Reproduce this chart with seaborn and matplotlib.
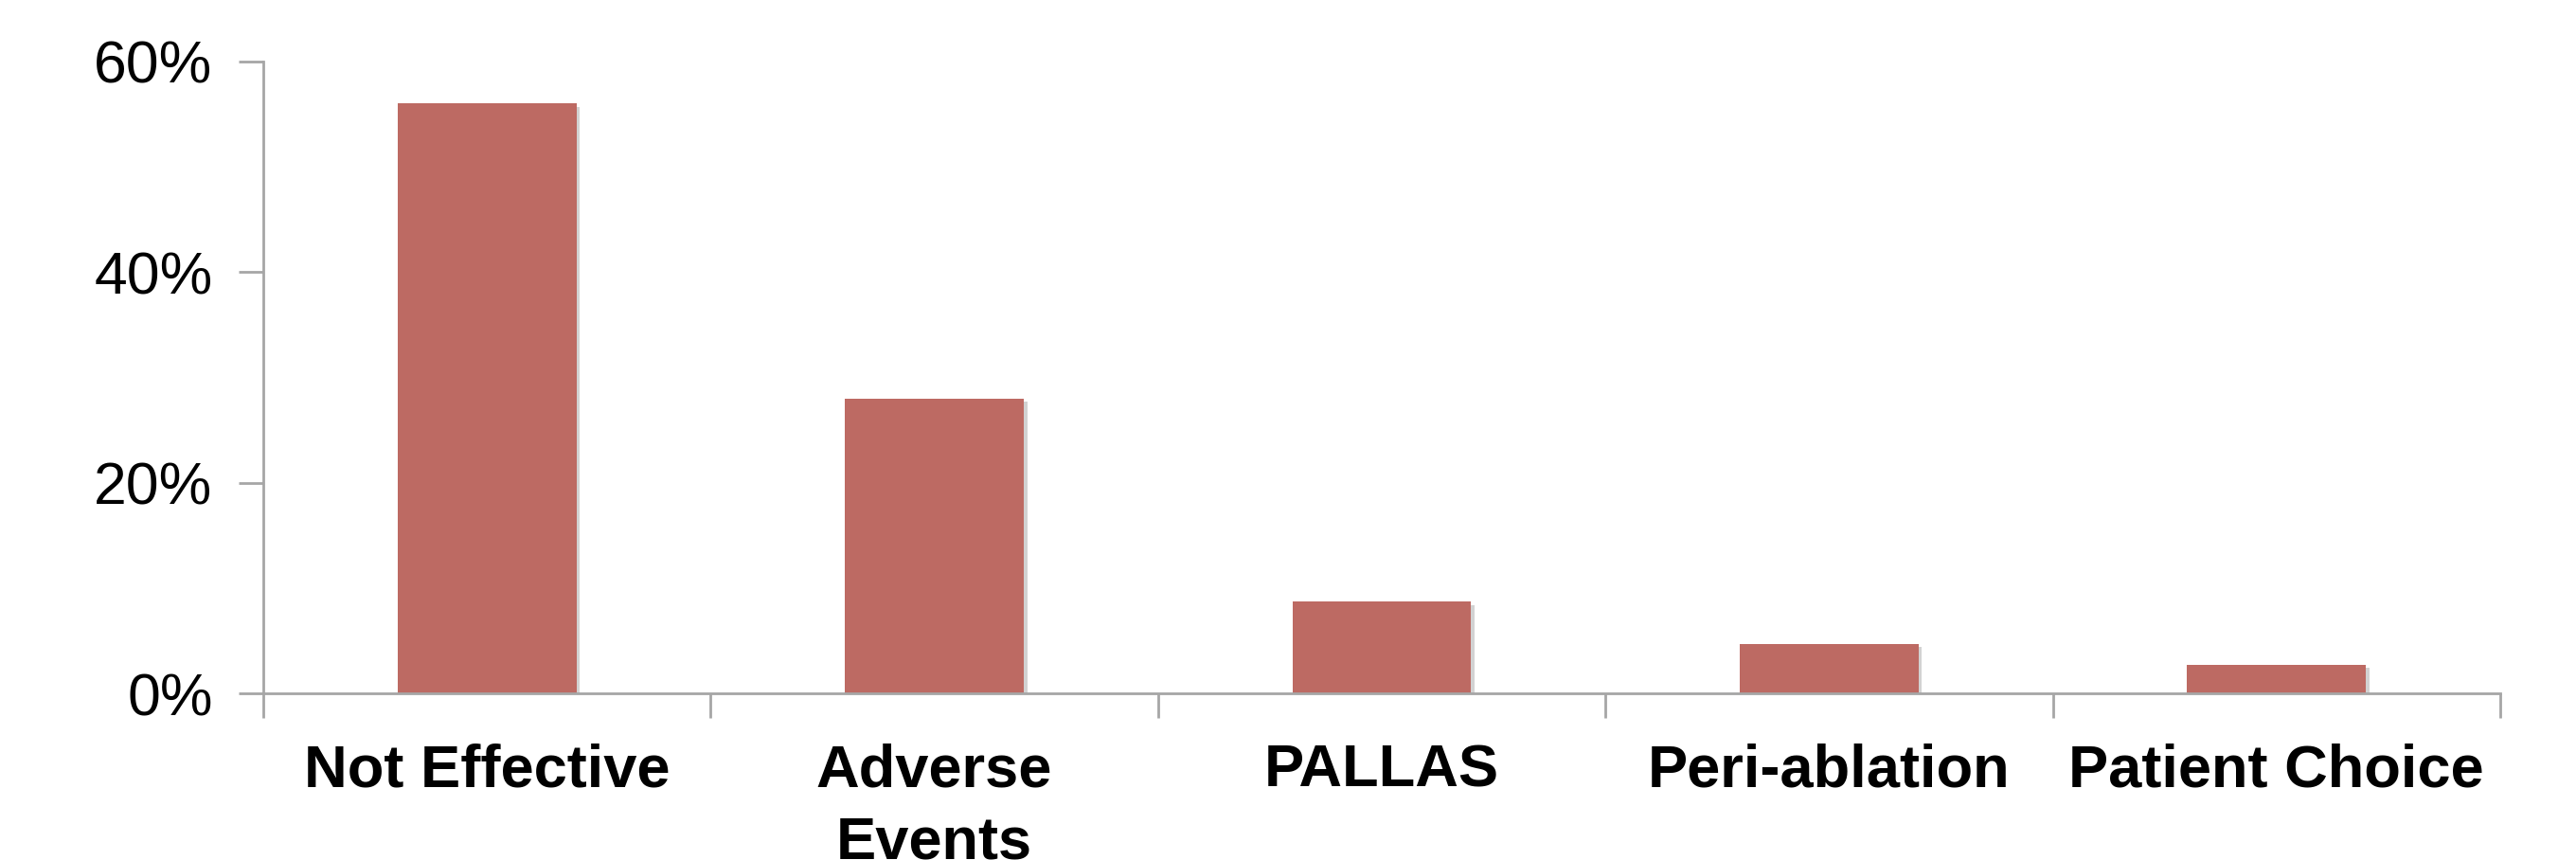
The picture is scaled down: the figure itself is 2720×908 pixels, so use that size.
import matplotlib
matplotlib.use("Agg")
import matplotlib.pyplot as plt
import matplotlib.patheffects as pe
from matplotlib.ticker import FixedLocator, FuncFormatter
import seaborn as sns
import pandas as pd

categories = ["Not Effective", "Adverse\nEvents", "PALLAS", "Peri-ablation", "Patient Choice"]
percentages = [56.0, 28.0, 8.7, 4.7, 2.7]
y_ticks = [0, 20, 40, 60]

sns.set_theme(style="white")
plt.rcParams["font.family"] = ["Liberation Sans", "DejaVu Sans"]

df = pd.DataFrame({"reason": categories, "pct": percentages})

fig = plt.figure(figsize=(27.2, 9.08), dpi=100)
ax = fig.add_axes([278 / 2720, 1 - 732 / 908, (2640 - 278) / 2720, (732 - 65) / 908])

sns.barplot(data=df, x="reason", y="pct", color="#BD6A63", saturation=1,
            width=0.4, ax=ax, edgecolor="none")

for bar in ax.patches:
    bar.set_path_effects([
        pe.SimplePatchShadow(offset=(2.5, -2.5), shadow_rgbFace="#808080", alpha=0.35),
        pe.Normal(),
    ])

ax.set_xlim(-0.5, len(categories) - 0.5)
ax.set_ylim(0, 60)

grey = "#A6A6A6"
for side in ["top", "right"]:
    ax.spines[side].set_visible(False)
for side in ["left", "bottom"]:
    ax.spines[side].set_color(grey)
    ax.spines[side].set_linewidth(2)

ax.yaxis.set_major_locator(FixedLocator(y_ticks))
ax.yaxis.set_major_formatter(FuncFormatter(lambda v, _: f"{v:.0f}%"))
ax.tick_params(axis="y", which="major", length=19, width=2, color=grey,
               labelsize=45, pad=19.5, left=True, labelcolor="black")

ax.set_xticks(range(len(categories)))
ax.set_xticklabels(categories, fontweight="bold", fontsize=45.5, va="top",
                   linespacing=1.36)
ax.set_xticks([i - 0.5 for i in range(len(categories) + 1)], minor=True)
ax.tick_params(axis="x", which="major", length=0, pad=38, labelcolor="black")
ax.tick_params(axis="x", which="minor", length=19, width=2, color=grey,
               bottom=True)

ax.set_xlabel("")
ax.set_ylabel("")

fig.savefig("out.png", dpi=100, facecolor="white")
